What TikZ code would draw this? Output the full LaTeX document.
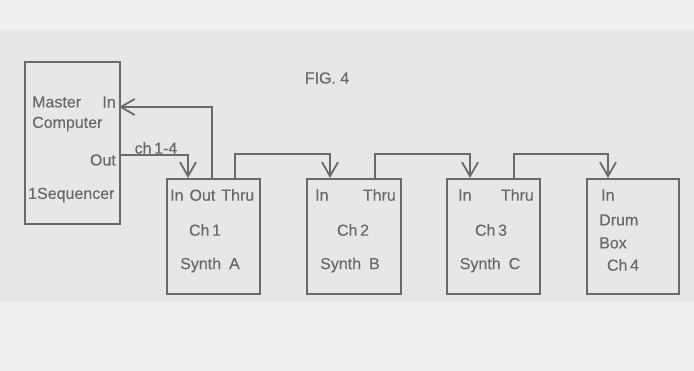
\documentclass[tikz,border=0pt]{standalone}
\usepackage{fontspec}
\setmainfont{Liberation Sans}
\newfontfamily\lblfont[FakeBold=0.35]{Liberation Sans}
\usetikzlibrary{arrows.meta}
\definecolor{ink}{HTML}{6A6A6A}
\definecolor{paper}{HTML}{EFEFEF}
\definecolor{paperdark}{HTML}{E7E7E7}
\tikzset{
  box/.style={draw=ink, line width=1.8pt, anchor=north west, inner sep=0pt},
  conn/.style={draw=ink, line width=1.8pt, -{Straight Barb[length=14pt,width=16pt,line width=1.8pt]}},
  lbl/.style={text=ink, font=\lblfont\fontsize{16}{18}\selectfont, inner sep=0pt},
}
\begin{document}
\begin{tikzpicture}[x=1pt,y=-1pt]
\useasboundingbox (0,0) rectangle (694,371);
\fill[paper] (0,0) rectangle (694,371);
\fill[paperdark] (0,30) rectangle (694,302);
% boxes
\node[box, minimum width=95pt, minimum height=162pt] (master) at (24,61) {};
\node[box, minimum width=93pt, minimum height=115pt] (sa) at (166,178) {};
\node[box, minimum width=94pt, minimum height=115pt] (sb) at (306,178) {};
\node[box, minimum width=93pt, minimum height=115pt] (sc) at (446,178) {};
\node[box, minimum width=92pt, minimum height=115pt] (db) at (586,178) {};
% ports
\coordinate (mIn) at (119,107);
\coordinate (mOut) at (119,155);
\coordinate (aIn) at (188,178);
\coordinate (aOut) at (212,178);
\coordinate (aThru) at (235,178);
\coordinate (bIn) at (330,178);
\coordinate (bThru) at (375,178);
\coordinate (cIn) at (470,178);
\coordinate (cThru) at (514,178);
\coordinate (dIn) at (608,178);
% connectors
\draw[conn] (aOut) |- (mIn);
\draw[conn] (mOut) -| (aIn);
\draw[conn] (aThru) -- ++(0,-24) -| (bIn);
\draw[conn] (bThru) -- ++(0,-24) -| (cIn);
\draw[conn] (cThru) -- ++(0,-24) -| (dIn);
% texts
\node[lbl] (fig) at (327,78) {FIG. 4};
\node[lbl, anchor=west] (t1) at (32,102) {Master};
\node[lbl, anchor=east] (t2) at (116,102) {In};
\node[lbl, anchor=west] (t3) at (32,124) {Computer};
\node[lbl, anchor=east] (t4) at (116,160) {Out};
\node[lbl, anchor=west] (t5) at (28,195) {1Sequencer};
\node[lbl] (t6) at (156,148) {ch\,1-4};
\node[lbl, anchor=west] (a1) at (170,195) {In\hspace{6pt}Out\hspace{6pt}Thru};
\node[lbl] (a2) at (205,230) {Ch\,1};
\node[lbl] (a3) at (210,265) {Synth\enspace A};
\node[lbl, anchor=west] (b1) at (315,195) {In};
\node[lbl, anchor=east] (b2) at (396,195) {Thru};
\node[lbl] (b3) at (353,230) {Ch\,2};
\node[lbl] (b4) at (350,265) {Synth\enspace B};
\node[lbl, anchor=west] (c1) at (458,195) {In};
\node[lbl, anchor=east] (c2) at (534,195) {Thru};
\node[lbl] (c3) at (491,230) {Ch\,3};
\node[lbl] (c4) at (490,265) {Synth\enspace C};
\node[lbl, anchor=west] (d1) at (601,195) {In};
\node[lbl, anchor=west] (d2) at (599,220) {Drum};
\node[lbl, anchor=west] (d3) at (599,243) {Box};
\node[lbl] (d4) at (623,265) {Ch\,4};
\end{tikzpicture}
\end{document}
